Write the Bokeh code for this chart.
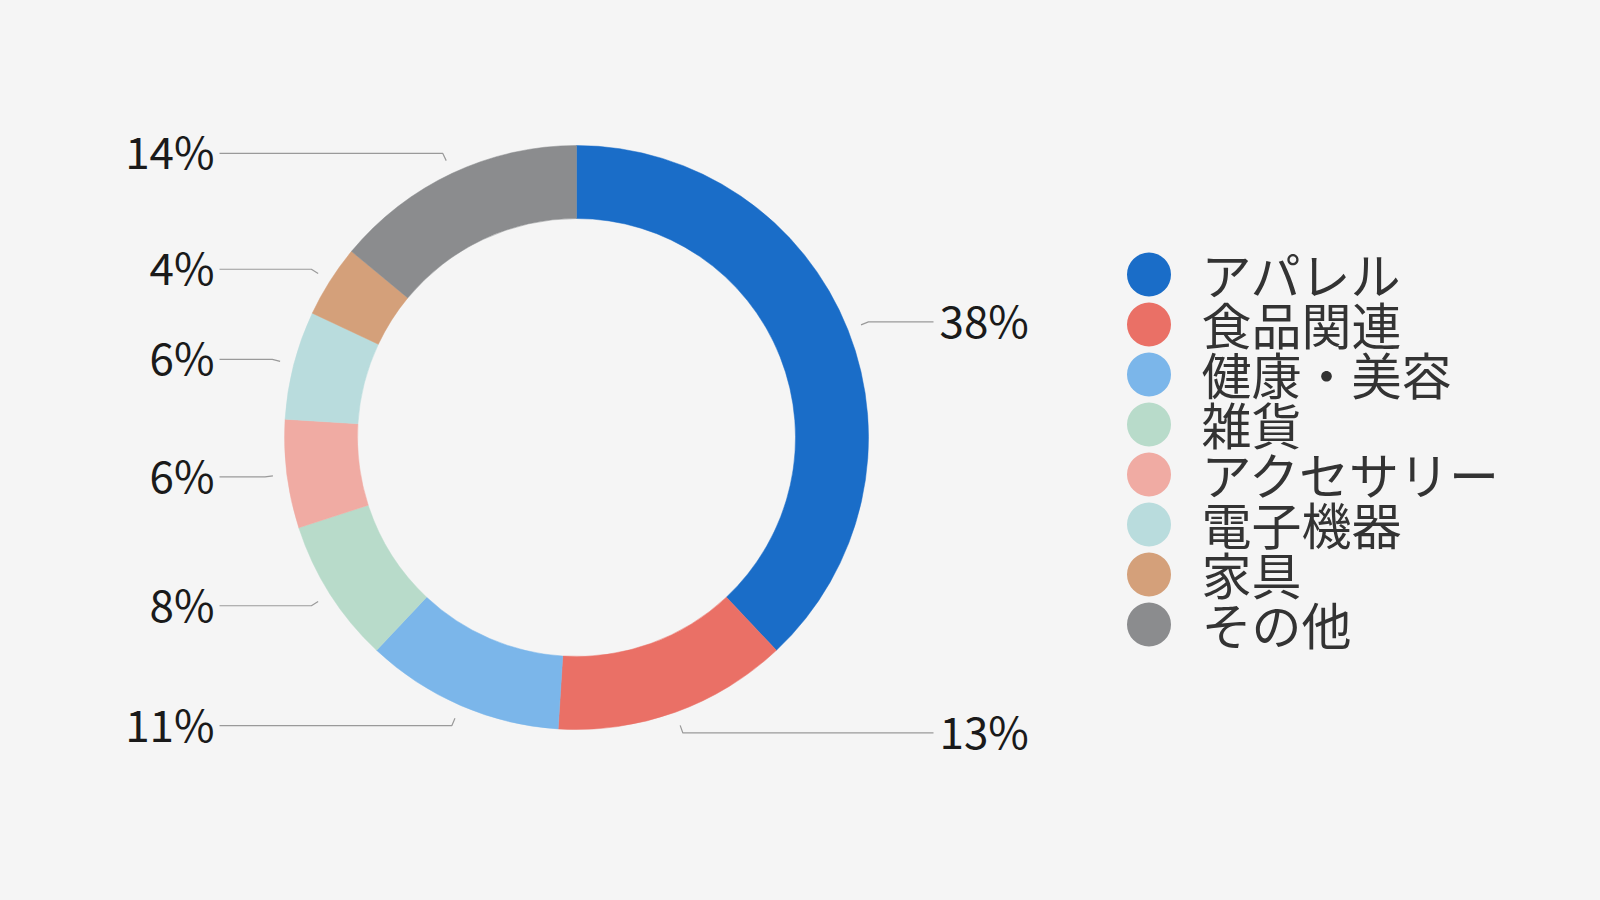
import numpy as np
from bokeh.plotting import figure
from bokeh.models import Range1d
from bokeh.core.properties import value
from bokeh.embed import file_html
from bokeh.resources import INLINE

# ---- data ----
categories = ["アパレル", "食品関連", "健康・美容", "雑貨", "アクセサリー", "電子機器", "家具", "その他"]
shares = [38, 13, 11, 8, 6, 6, 4, 14]
colors = ["#1a6dc8", "#ea7066", "#7bb6ea", "#b8dbca", "#f0aba3", "#b9dcdd", "#d4a07a", "#8b8c8e"]
pct_labels = [f"{s}%" for s in shares]

# ---- layout ----
W, H = 1584, 884
BG = "#f5f5f5"
CX, CY = 576, 447
R_OUT, R_IN = 292, 219
R_LINE0, R_LINE1 = 306, 314
LEFT_LINE_END, LEFT_TEXT_X = 219, 214
RIGHT_LINE_END, RIGHT_TEXT_X = 933, 939
PCT_TEXT_DY = 3
LEG_X, LEG_TEXT_X, LEG_Y0, LEG_STEP, LEG_TEXT_DY = 1148.5, 1201, 610, 50, 2
FONT = "Noto Sans CJK JP"

p = figure(width=W, height=H, output_backend="svg", toolbar_location=None,
           x_range=Range1d(0, W), y_range=Range1d(0, H),
           min_border=0, background_fill_color=BG, border_fill_color=BG,
           outline_line_color=None)
p.axis.visible = False
p.grid.visible = False

total = float(sum(shares))
fr = np.array(shares) / total
cum_end = np.cumsum(fr)
cum_start = cum_end - fr
start_ang = np.pi / 2 - 2 * np.pi * cum_start
end_ang = np.pi / 2 - 2 * np.pi * cum_end

p.annular_wedge(x=[CX] * len(shares), y=[CY] * len(shares), inner_radius=R_IN, outer_radius=R_OUT,
                start_angle=list(start_ang), end_angle=list(end_ang), direction="clock",
                fill_color=colors, line_color=colors, line_width=0.5)

# leader lines and percentage labels
mid = (cum_start + cum_end) / 2
theta = np.pi / 2 - 2 * np.pi * mid
xs, ys = [], []
lx, ly, rx, ry, ltxt, rtxt = [], [], [], [], [], []
for t, lab in zip(theta, pct_labels):
    x0, y0 = CX + R_LINE0 * np.cos(t), CY + R_LINE0 * np.sin(t)
    x1, y1 = CX + R_LINE1 * np.cos(t), CY + R_LINE1 * np.sin(t)
    if np.cos(t) >= 0:
        xs.append([x0, x1, RIGHT_LINE_END]); ys.append([y0, y1, y1])
        rx.append(RIGHT_TEXT_X); ry.append(y1 + PCT_TEXT_DY); rtxt.append(lab)
    else:
        xs.append([x0, x1, LEFT_LINE_END]); ys.append([y0, y1, y1])
        lx.append(LEFT_TEXT_X); ly.append(y1 + PCT_TEXT_DY); ltxt.append(lab)
p.multi_line(xs=xs, ys=ys, line_color="#9a9a9a", line_width=1.2)

p.text(x=lx, y=ly, text=ltxt, text_align="right", text_baseline="middle",
       text_font=value(FONT), text_font_size="44px", text_color="#1a1a1a")
p.text(x=rx, y=ry, text=rtxt, text_align="left", text_baseline="middle",
       text_font=value(FONT), text_font_size="44px", text_color="#1a1a1a")

# legend
leg_y = [LEG_Y0 - i * LEG_STEP for i in range(len(categories))]
p.scatter(x=[LEG_X] * len(categories), y=leg_y, size=44, marker="circle",
          fill_color=colors, line_color=None)
p.text(x=[LEG_TEXT_X] * len(categories), y=[v + LEG_TEXT_DY for v in leg_y], text=categories,
       text_align="left", text_baseline="middle", text_font=value(FONT),
       text_font_size="50px", text_color="#333333")

template = None
try:
    from bokeh.core.templates import get_env
    template = get_env().from_string(
        '{% extends "file.html" %}{% block preamble %}<style>html,body{background:#f5f5f5;}</style>{% endblock %}')
except Exception:
    template = None

if template is not None:
    html = file_html(p, INLINE, template=template)
else:
    html = file_html(p, INLINE)
open("out.html", "w").write(html)
